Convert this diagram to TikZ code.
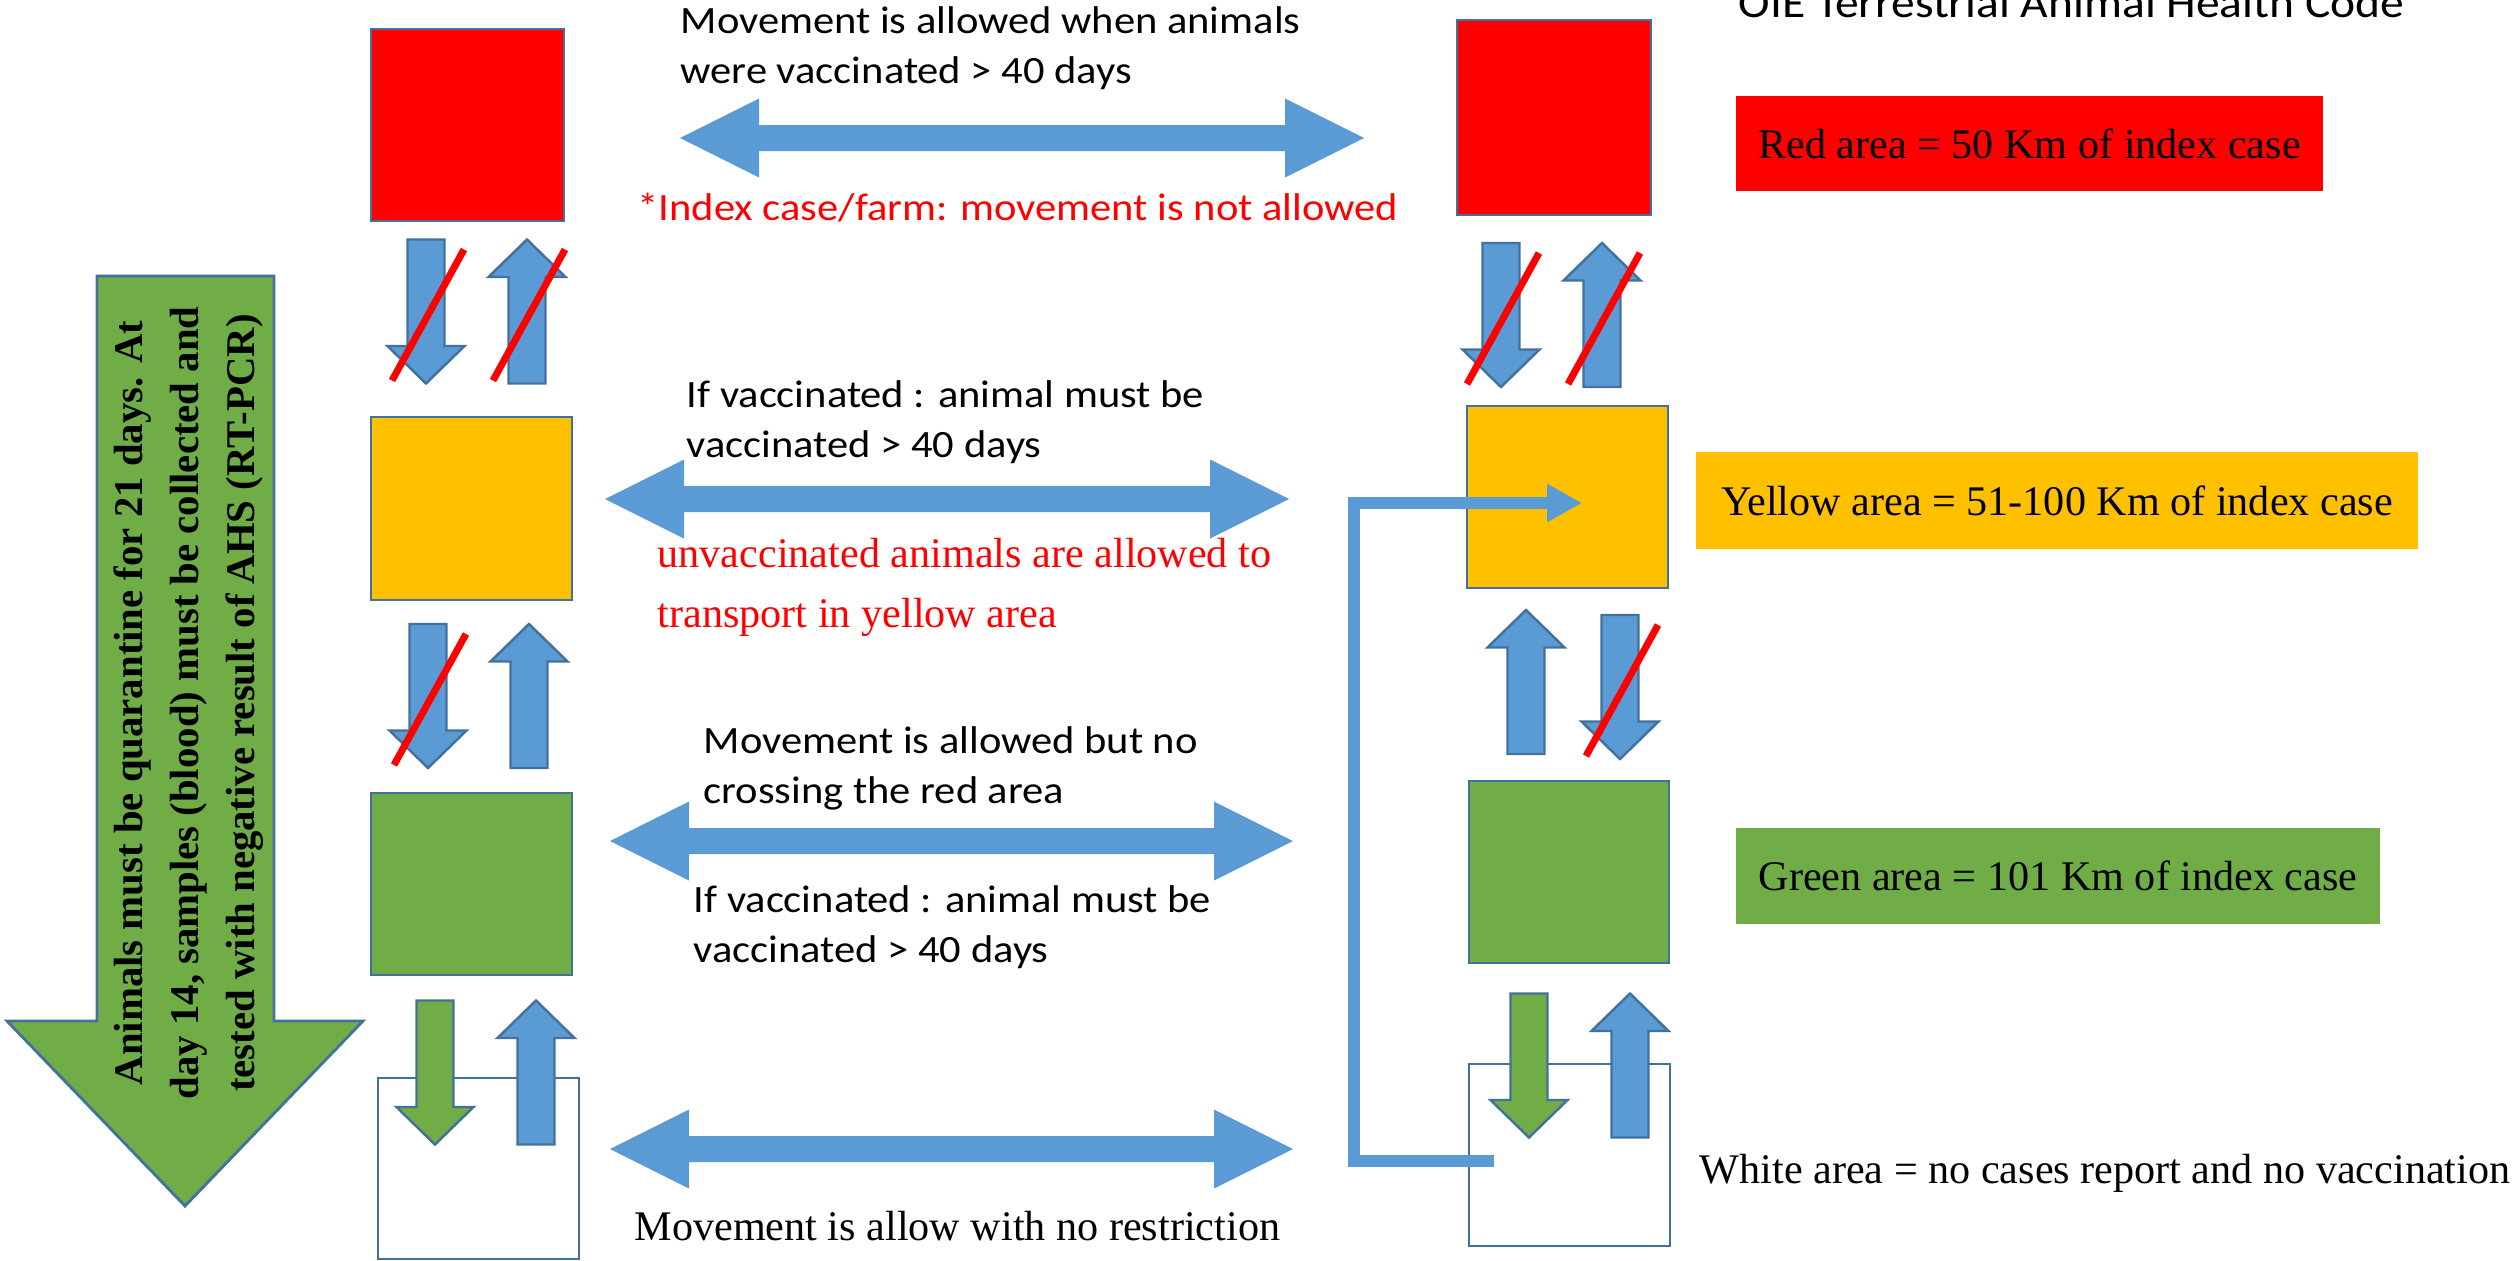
\documentclass[tikz,border=0pt]{standalone}
\usepackage{fontspec}
\setmainfont{Liberation Serif}
\newfontfamily\calib[FakeStretch=1.1]{Carlito}
\usetikzlibrary{arrows.meta,calc}
\definecolor{arrblue}{HTML}{5B9BD5}
\definecolor{edgeblue}{HTML}{41719C}
\definecolor{areared}{HTML}{FF0000}
\definecolor{areayel}{HTML}{FFC000}
\definecolor{areagrn}{HTML}{70AD47}

\begin{document}
\begin{tikzpicture}[
  bx/.style={draw=edgeblue,line width=0.8pt,inner sep=0pt},%
  r/.style={bx,fill=areared},%
  ye/.style={bx,fill=areayel},%
  g/.style={bx,fill=areagrn},%
  wh/.style={bx,fill=white},%
  lab/.style={inner sep=0pt,font=\fontsize{12}{14}\selectfont},%
  tx/.style={inner sep=0pt,align=left,anchor=base west,%
    font=\calib\fontsize{11}{14.2}\selectfont},%
  txs/.style={inner sep=0pt,align=left,anchor=base west,%
    font=\fontsize{12}{16.8}\selectfont},%
  e/.style={line width=0.12cm,draw=arrblue,-{Triangle[length=0.35cm,width=0.36cm]}},%
  ua/.style={fill=arrblue,draw=edgeblue,line width=0.7pt},%
  ga/.style={fill=areagrn,draw=edgeblue,line width=0.7pt},%
  pics/barr/.style={code={%
    \path[pic actions] (-0.185,-0.72) -- (-0.185,0.345) -- (-0.385,0.345) -- (0,0.72)
      -- (0.385,0.345) -- (0.185,0.345) -- (0.185,-0.72) -- cycle;}},%
  pics/nogo/.style={code={%
    \draw[areared,line width=0.07cm] (-0.34,-0.69) -- (0.38,0.62);}},%
  pics/darr/.style={code={%
    \fill[arrblue] (0,0) -- (0.79,0.395) -- (0.79,0.13) -- ({#1-0.79},0.13)
      -- ({#1-0.79},0.395) -- (#1,0) -- ({#1-0.79},-0.395) -- ({#1-0.79},-0.13)
      -- (0.79,-0.13) -- (0.79,-0.395) -- cycle;}}
  ]
  \useasboundingbox (0,0) rectangle (25.16,12.60);
  \clip (0,0) rectangle (25.16,12.60);

  % quarantine arrow on the left
  \draw[ga,line width=0.8pt] (0.97,9.84) -- (0.97,2.39) -- (0.07,2.39) -- (1.85,0.54)
    -- (3.63,2.39) -- (2.74,2.39) -- (2.74,9.84) -- cycle;
  \node (quar) [rotate=90,align=center,inner sep=0pt,
    font=\bfseries\fontsize{11.6}{15.9}\selectfont] at (1.89,5.57)
    {Animals must be quarantine for 21 days. At\\
     day 14, samples (blood) must be collected and\\
     tested with negative result of AHS (RT-PCR)};

  % areas, left column
  \node (redL) [r,minimum width=1.93cm,minimum height=1.92cm] at (4.675,11.35) {};
  \node (yelL) [ye,minimum width=2.01cm,minimum height=1.83cm] at (4.715,7.515) {};
  \node (grnL) [g,minimum width=2.01cm,minimum height=1.82cm] at (4.715,3.76) {};
  \node (whtL) [wh,minimum width=2.01cm,minimum height=1.81cm] at (4.785,0.915) {};

  % areas, right column
  \node (redR) [r,minimum width=1.94cm,minimum height=1.95cm] at (15.54,11.425) {};
  \node (yelR) [ye,minimum width=2.01cm,minimum height=1.82cm] at (15.675,7.63) {};
  \node (grnR) [g,minimum width=2.00cm,minimum height=1.82cm] at (15.69,3.88) {};
  \node (whtR) [wh,minimum width=2.01cm,minimum height=1.82cm] at (15.695,1.05) {};

  % legend
  \node (redLab) [lab,fill=areared,minimum width=5.87cm,minimum height=0.95cm]
    at (20.295,11.165) {Red area = 50 Km of index case};
  \node (yelLab) [lab,fill=areayel,minimum width=7.22cm,minimum height=0.97cm]
    at (20.57,7.595) {Yellow area = 51-100 Km of index case};
  \node (grnLab) [lab,fill=areagrn,minimum width=6.44cm,minimum height=0.96cm]
    at (20.58,3.84) {Green area = 101 Km of index case};
  \node (whtLab) [txs] at (16.99,0.77) {White area = no cases report and no vaccination};
  \node (oie) [tx,font=\calib\fontsize{12.3}{14}\selectfont] at (17.38,12.43)
    {OIE Terrestrial Animal Health Code};

  % up / down arrows between the areas
  \pic[ua,rotate=180] at (4.26,9.485) {barr};
  \pic[ua] at (5.27,9.485) {barr};
  \pic at (4.26,9.485) {nogo};
  \pic at (5.27,9.485) {nogo};
  \pic[ua,rotate=180] at (4.28,5.64) {barr};
  \pic[ua] at (5.29,5.64) {barr};
  \pic at (4.28,5.64) {nogo};
  \pic[ga,rotate=180] at (4.35,1.875) {barr};
  \pic[ua] at (5.36,1.875) {barr};

  \pic[ua,rotate=180] at (15.01,9.45) {barr};
  \pic[ua] at (16.02,9.45) {barr};
  \pic at (15.01,9.45) {nogo};
  \pic at (16.02,9.45) {nogo};
  \pic[ua] at (15.26,5.78) {barr};
  \pic[ua,rotate=180] at (16.20,5.73) {barr};
  \pic at (16.20,5.73) {nogo};
  \pic[ga,rotate=180] at (15.29,1.945) {barr};
  \pic[ua] at (16.30,1.945) {barr};

  % movement between the two columns
  \pic at (6.80,11.22) {darr=6.84};
  \pic at (6.05,7.61) {darr=6.84};
  \pic at (6.10,4.19) {darr=6.83};
  \pic at (6.10,1.11) {darr=6.83};

  \node (mv1) [tx] at (6.80,11.77) {Movement is allowed when animals\\were vaccinated > 40 days};
  \node (idx) [tx,text=areared] at (6.37,10.40) {*Index case/farm: movement is not allowed};
  \node (mv2) [tx] at (6.86,8.03) {If vaccinated : animal must be\\vaccinated > 40 days};
  \node (unv) [txs,text=areared] at (6.57,6.33)
    {unvaccinated animals are allowed to\\transport in yellow area};
  \node (mv3) [tx] at (7.03,4.57) {Movement is allowed but no\\crossing the red area};
  \node (mv4) [tx] at (6.93,2.98) {If vaccinated : animal must be\\vaccinated > 40 days};
  \node (mv5) [txs] at (6.34,0.20) {Movement is allow with no restriction};

  % white area back to yellow area
  \draw [e] ($(whtR.west)+(0.265,-0.06)$) -- ++(-1.40,0) |- ($(yelR.center)+(0.145,-0.06)$);
\end{tikzpicture}
\end{document}
